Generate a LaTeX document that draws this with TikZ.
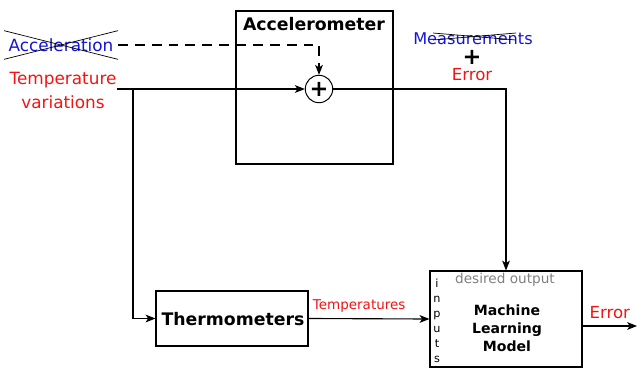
\documentclass[tikz,border=0pt]{standalone}
\usepackage{fontspec}
\setmainfont{DejaVu Sans}
\usepackage{tikz}
\usetikzlibrary{arrows.meta,calc,positioning,fit}
\definecolor{signalblue}{RGB}{20,20,215}
\definecolor{errred}{RGB}{240,20,20}
\definecolor{notegray}{RGB}{128,128,128}
\tikzset{
  blk/.style={draw,line width=0.8pt,inner sep=0pt},
  lbl/.style={inner sep=0pt,font=\fontsize{12}{14}\selectfont},
  wire/.style={line width=0.8pt},
  tip/.style={-{Stealth[length=7pt,width=5.5pt,inset=1.8pt]}},
}
\begin{document}
\begin{tikzpicture}[x=0.025cm, y=-0.025cm]
\useasboundingbox (0,0) rectangle (637,369);
%--- accelerometer ---
\node[blk, fit={(236,11) (393,164)}] (accbox) {};
\node[lbl, font=\fontsize{12.3}{14}\selectfont\bfseries] (acctitle) at (314,24) {Accelerometer};
\node[draw, circle, line width=0.7pt, minimum size=19.5pt, inner sep=0pt,
      font=\fontsize{16}{16}\selectfont\bfseries] (sum) at (319,89) {+};
% ingressi
\node[lbl, text=signalblue, minimum height=20pt, inner xsep=3pt] (acc) at (61,45) {Acceleration};
\draw[line width=0.5pt] (acc.north west) -- (acc.south east);
\draw[line width=0.5pt] (acc.south west) -- (acc.north east);
\node[lbl, text=errred] (temp1) at (63,80) {Temperature};
\node[lbl, text=errred, below=5pt of temp1.south] (temp2) {variations};
\coordinate (br) at (133,89);
\draw[wire, dashed, dash pattern=on 7pt off 5pt, tip] (acc.east) -| (sum.north);
\draw[wire, tip] (temp1.east |- sum) -- (sum.west);
%--- measurements + error ---
\node[lbl, text=signalblue, font=\fontsize{11.5}{13}\selectfont] (meas) at (473,39) {Measurements};
\draw[line width=0.5pt] (433,33) -- (516,40);
\draw[line width=0.5pt] (433,40) -- (516,33);
\node[lbl, font=\fontsize{16}{16}\selectfont\bfseries] (plus) at (472,57) {+};
\node[lbl, text=errred, font=\fontsize{11.8}{14}\selectfont] (err) at (472,75) {Error};
%--- thermometers ---
\node[blk, fit={(156,291) (308,346)}] (thermo) {};
\node[lbl, font=\fontsize{12.3}{14}\selectfont\bfseries] (thermotxt) at (233,319) {Thermometers};
%--- machine learning model ---
\node[blk, fit={(430,271) (582,367)}] (ml) {};
\node[lbl, text=notegray, font=\fontsize{9.7}{12}\selectfont] (desired) at (505,280) {desired output};
\node[lbl, align=center, font=\fontsize{8}{10.6}\selectfont] (inputs) at (437,321) {i\\n\\p\\u\\t\\s};
\node[lbl, align=center, font=\fontsize{10}{12.8}\selectfont\bfseries] (mltxt) at (507,328) {Machine\\Learning\\Model};
\coordinate (out) at (637,326);
% collegamenti
\draw[wire, tip] (br) |- (thermo.west);
\draw[wire, tip] (sum.east) -| (ml.north);
\draw[wire, tip] (thermo.east) -- (ml.west)
  node[midway, above=4pt, text=errred, font=\fontsize{9.6}{12}\selectfont, inner sep=0pt, xshift=-7] {Temperatures};
\draw[wire, tip] (ml.east |- out) -- (out)
  node[midway, above=5pt, text=errred, font=\fontsize{11.8}{14}\selectfont, inner sep=0pt] {Error};
\end{tikzpicture}
\end{document}
